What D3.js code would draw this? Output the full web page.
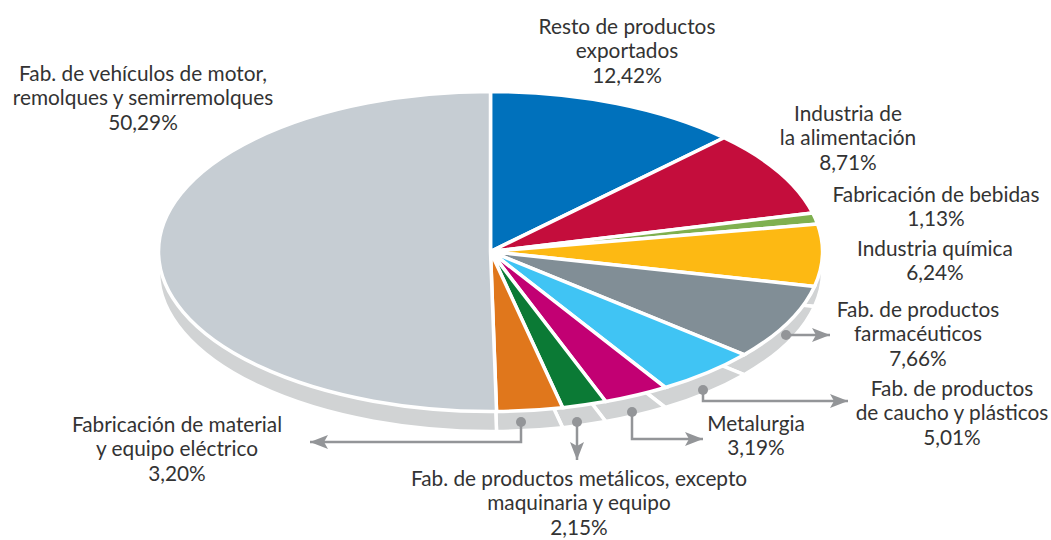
<!DOCTYPE html>
<html>
<head>
<meta charset="utf-8">
<script src="https://d3js.org/d3.v7.min.js"></script>
<style>
  body { margin: 0; background: white; }
  text { font-family: Lato, sans-serif; font-size: 20.8px; fill: #333; }
</style>
</head>
<body>
<script>
  // data, clockwise from the top
  const categories = [
    "Resto de productos exportados",
    "Industria de la alimentación",
    "Fabricación de bebidas",
    "Industria química",
    "Fab. de productos farmacéuticos",
    "Fab. de productos de caucho y plásticos",
    "Metalurgia",
    "Fab. de productos metálicos, excepto maquinaria y equipo",
    "Fabricación de material y equipo eléctrico",
    "Fab. de vehículos de motor, remolques y semirremolques"
  ];
  const values = [12.42, 8.71, 1.13, 6.24, 7.66, 5.01, 3.19, 2.15, 3.20, 50.29];
  const valueLabels = ["12,42%", "8,71%", "1,13%", "6,24%", "7,66%", "5,01%", "3,19%", "2,15%", "3,20%", "50,29%"];
  const colors = ["#0071bc", "#c40d3c", "#7fb04f", "#fdb913", "#818e96", "#40c4f4", "#c20073", "#0b7a35", "#e0771c", "#c6cdd3"];

  const width = 1051, height = 540;
  const cx = 490.5, cy = 251.5, rx = 332, ry = 160, depth = 20;

  const svg = d3.select("body").append("svg")
    .attr("width", width)
    .attr("height", height)
    .style("display", "block");

  const defs = svg.append("defs");
  defs.append("marker")
    .attr("id", "arrow")
    .attr("markerUnits", "userSpaceOnUse")
    .attr("viewBox", "0 0 18 14")
    .attr("refX", 18).attr("refY", 7)
    .attr("markerWidth", 18).attr("markerHeight", 14)
    .attr("orient", "auto")
    .append("path")
    .attr("d", "M0,0L18,7L0,14L4,7Z")
    .attr("fill", "#939598");

  const slices = d3.pie().sort(null).value(d => d)(values);
  const arc = d3.arc().innerRadius(0).outerRadius(rx);

  // side wall: same sectors pushed down, only the rim shows
  svg.append("g")
    .attr("transform", `translate(${cx},${cy + depth}) scale(1,${ry / rx})`)
    .selectAll("path")
    .data(slices)
    .join("path")
    .attr("d", arc)
    .attr("fill", "#d1d3d4")
    .attr("stroke", "white")
    .attr("stroke-width", 3.5)
    .attr("vector-effect", "non-scaling-stroke");

  // top face
  svg.append("g")
    .attr("transform", `translate(${cx},${cy}) scale(1,${ry / rx})`)
    .selectAll("path")
    .data(slices)
    .join("path")
    .attr("d", arc)
    .attr("fill", (d, i) => colors[i])
    .attr("stroke", "white")
    .attr("stroke-width", 3.5)
    .attr("vector-effect", "non-scaling-stroke");

  // leader lines
  const leaders = [
    [[786, 335], [830, 335]],
    [[703, 390], [703, 401], [848, 401]],
    [[632, 412], [632, 439], [703, 439]],
    [[577, 422], [577, 460]],
    [[521, 422], [521, 442], [310, 442]]
  ];
  const leaderLine = d3.line();
  leaders.forEach(pts => {
    svg.append("path")
      .attr("d", leaderLine(pts))
      .attr("fill", "none")
      .attr("stroke", "#939598")
      .attr("stroke-width", 2.5)
      .attr("marker-end", "url(#arrow)");
    svg.append("circle")
      .attr("cx", pts[0][0])
      .attr("cy", pts[0][1])
      .attr("r", 5)
      .attr("fill", "#939598");
  });

  // labels: centre x, first baseline, wrapped lines
  const labelLayout = [
    { x: 627, y: 33.5, lines: ["Resto de productos", "exportados"] },
    { x: 848, y: 120.5, lines: ["Industria de", "la alimentación"] },
    { x: 936, y: 201.5, lines: ["Fabricación de bebidas"] },
    { x: 935, y: 255.5, lines: ["Industria química"] },
    { x: 918, y: 316.5, lines: ["Fab. de productos", "farmacéuticos"] },
    { x: 952, y: 395.5, lines: ["Fab. de productos", "de caucho y plásticos"] },
    { x: 756, y: 430.5, lines: ["Metalurgia"] },
    { x: 579, y: 485.5, lines: ["Fab. de productos metálicos, excepto", "maquinaria y equipo"] },
    { x: 177, y: 431.5, lines: ["Fabricación de material", "y equipo eléctrico"] },
    { x: 143, y: 80.5, lines: ["Fab. de vehículos de motor,", "remolques y semirremolques"] }
  ];
  const lineHeight = 24.6;
  labelLayout.forEach((l, i) => {
    const t = svg.append("text")
      .attr("text-anchor", "middle")
      .attr("data-category", categories[i]);
    l.lines.concat(valueLabels[i]).forEach((s, j) => {
      t.append("tspan")
        .attr("x", l.x)
        .attr("y", l.y + j * lineHeight)
        .text(s);
    });
  });
</script>
</body>
</html>
